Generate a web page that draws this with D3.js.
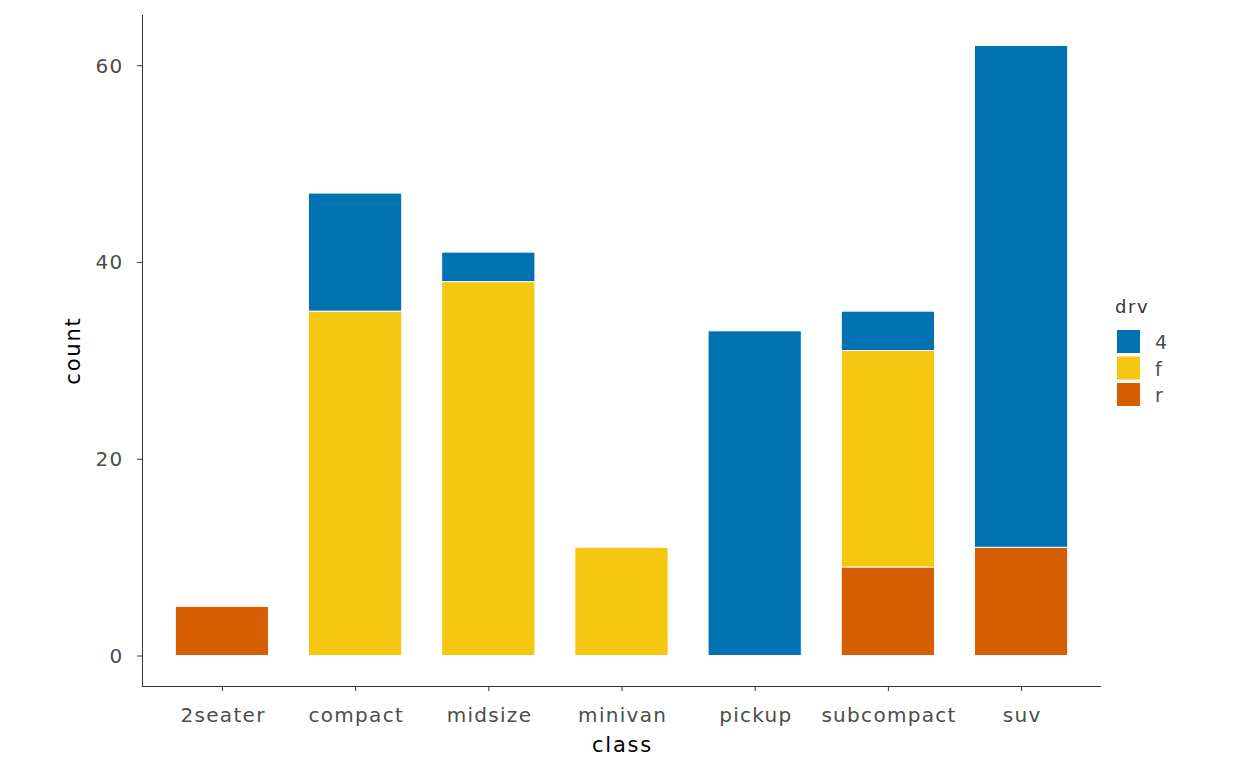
<!DOCTYPE html>
<html><head><meta charset="utf-8">
<script src="https://cdn.jsdelivr.net/npm/d3@7"></script>
<style>body{margin:0;background:#fff;} text{font-family:"DejaVu Sans",sans-serif;}</style>
</head><body>
<svg id="c" width="1248" height="771"></svg>
<script>
const categories = ["2seater","compact","midsize","minivan","pickup","subcompact","suv"];
const drvLevels = ["4","f","r"];
const count4 = [0,12,3,0,33,4,51];
const countF = [0,35,38,11,0,22,0];
const countR = [5,0,0,0,0,9,11];
const yTicks = [0,20,40,60];
const colors = {"4":"#0072B2","f":"#F5C710","r":"#D55E00"};

const svg = d3.select("#c");
const L=142, R=1101, T=15, B=686;
const rows = categories.map((c,i)=>({class:c,"4":count4[i],f:countF[i],r:countR[i]}));
const stack = d3.stack().keys(["r","f","4"])(rows);
const x = d3.scalePoint().domain(categories).range([L,R]).padding(0.6);
const bw = x.step()*0.7;
const maxV = d3.max(rows, d=>d["4"]+d.f+d.r);
const y = d3.scaleLinear().domain([-maxV*0.05, maxV*1.05]).range([B,T]);

svg.append("g").selectAll("g").data(stack).join("g").attr("fill",d=>colors[d.key])
  .selectAll("rect").data(d=>d.filter(e=>e[1]-e[0]>0)).join("rect")
  .attr("x",d=>x(d.data.class)-bw/2).attr("width",bw)
  .attr("y",d=>y(d[1])).attr("height",d=>y(d[0])-y(d[1]))
  .attr("stroke","#fff").attr("stroke-width",1);

const ya = svg.append("g").attr("transform",`translate(${L},0)`).call(d3.axisLeft(y).tickValues(yTicks).tickSize(5).tickPadding(0));
const xa = svg.append("g").attr("transform",`translate(0,${B})`).call(d3.axisBottom(x).tickSize(5).tickPadding(0));
xa.select(".domain").attr("d",`M${L},0.5H${R}`);
ya.select(".domain").attr("d",`M0.5,${T}V${B}`);
[xa,ya].forEach(a=>{a.selectAll("path,line").attr("stroke","#333");a.selectAll("text").attr("fill","#4D4D4D").style("font-size","20px").style("letter-spacing","1.3px");});
ya.selectAll("text").attr("x",-18.5).attr("dy","0.35em");
xa.selectAll("text").attr("y",36).attr("dy",null).attr("dx","0.65px");

svg.append("text").attr("x",(L+R)/2+1).attr("y",752).attr("text-anchor","middle").style("font-size","21px").style("letter-spacing","1.8px").text("class");
svg.append("text").attr("transform",`translate(80,${(T+B)/2}) rotate(-90)`).attr("text-anchor","middle").style("font-size","21px").style("letter-spacing","1.8px").text("count");

const lg = svg.append("g");
lg.append("text").attr("x",1115).attr("y",313).style("font-size","18px").style("letter-spacing","1.6px").attr("fill","#333").text("drv");
drvLevels.forEach((k,i)=>{
  lg.append("rect").attr("x",1117).attr("y",330+i*26.5).attr("width",23).attr("height",23).attr("fill",colors[k]);
  lg.append("text").attr("x",1155).attr("y",349+i*26.5).style("font-size","19px").attr("fill","#4D4D4D").text(k);
});
</script>
</body></html>
